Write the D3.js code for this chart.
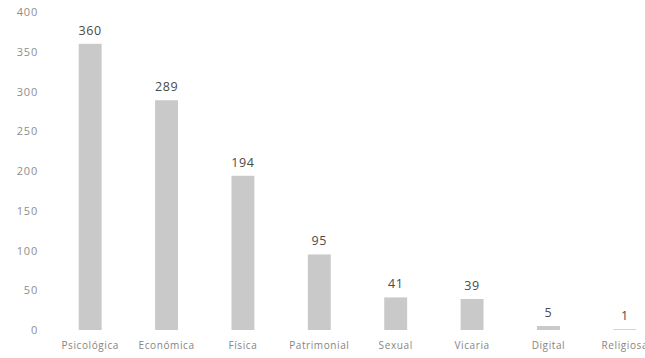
<!DOCTYPE html>
<html>
<head>
<meta charset="utf-8">
<script src="https://cdn.jsdelivr.net/npm/d3@7"></script>
<style>
  body { margin: 0; background: #fff; }
  svg { display: block; font-family: "Open Sans", Lato, sans-serif; }
</style>
</head>
<body>
<svg id="chart" width="645" height="358"></svg>
<script>
var categories = ['Psicológica', 'Económica', 'Física', 'Patrimonial', 'Sexual', 'Vicaria', 'Digital', 'Religiosa'];
var values = [360, 289, 194, 95, 41, 39, 5, 1];
var yTicks = [0, 50, 100, 150, 200, 250, 300, 350, 400];

var svg = d3.select('#chart');

var x = d3.scaleBand()
  .domain(categories)
  .range([52, 663])
  .paddingInner(0.7)
  .paddingOuter(0.35);

var y = d3.scaleLinear()
  .domain([0, 400])
  .range([330, 12]);

// y axis labels only, no line
var yAxis = d3.axisLeft(y).tickValues(yTicks).tickSize(0).tickPadding(0);
svg.append('g')
  .attr('transform', 'translate(38,0)')
  .call(yAxis)
  .call(function(g) { g.select('.domain').remove(); })
  .selectAll('text')
  .attr('fill', '#8e8e8e')
  .style('font-size', '11px')
  .style('letter-spacing', '0.8px')
  .style('font-family', '"Open Sans", sans-serif');

var rows = categories.map(function(c, i) { return { cat: c, val: values[i] }; });

svg.selectAll('rect.bar')
  .data(rows)
  .enter()
  .append('rect')
  .attr('class', 'bar')
  .attr('x', function(d) { return x(d.cat); })
  .attr('width', x.bandwidth())
  .attr('y', function(d) { return y(d.val); })
  .attr('height', function(d) { return y(0) - y(d.val); })
  .attr('fill', '#c9c9c9');

svg.selectAll('text.val')
  .data(rows)
  .enter()
  .append('text')
  .attr('class', 'val')
  .attr('x', function(d) { return x(d.cat) + x.bandwidth() / 2; })
  .attr('y', function(d) { return y(d.val) - 9; })
  .attr('text-anchor', 'middle')
  .attr('fill', '#4a4a4a')
  .style('font-size', '12.5px')
  .style('letter-spacing', '0.6px')
  .text(function(d) { return d.val; });

// category labels under the bars (last one runs off the edge, as in the source)
var xAxis = d3.axisBottom(x).tickSize(0).tickPadding(0);
svg.append('g')
  .attr('transform', 'translate(0,342)')
  .call(xAxis)
  .call(function(g) { g.select('.domain').remove(); })
  .selectAll('text')
  .attr('fill', '#858585')
  .style('font-size', '10px')
  .style('letter-spacing', '0.6px')
  .style('font-family', '"Open Sans", sans-serif');
</script>
</body>
</html>
